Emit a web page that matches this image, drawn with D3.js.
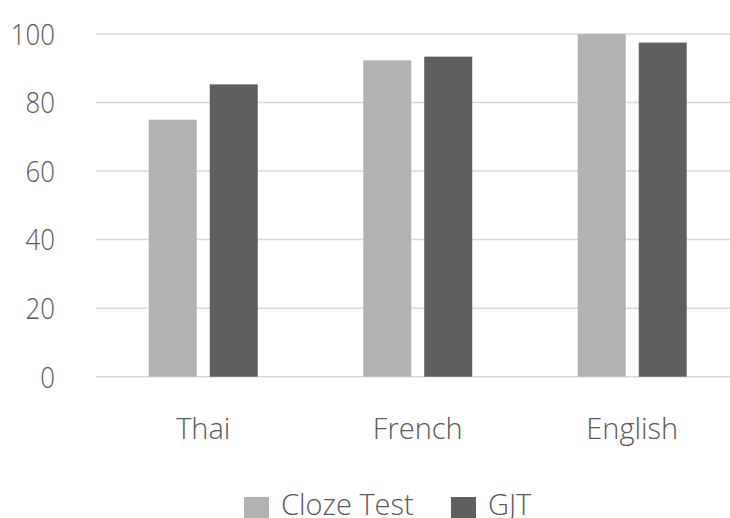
<!DOCTYPE html>
<html>
<head>
<meta charset="utf-8">
<script src="https://cdn.jsdelivr.net/npm/d3@7"></script>
<style>
  body { margin: 0; background: #fff; overflow: hidden; }
  text { font-family: "Open Sans", sans-serif; font-weight: 300; fill: #595959; }
</style>
</head>
<body>
<div id="chart"></div>
<script>
// chart data
var categories = ["Thai", "French", "English"];
var seriesNames = ["Cloze Test", "GJT"];
var clozeValues = [75, 92.3, 100];
var gjtValues = [85.3, 93.4, 97.5];
var yTicks = [0, 20, 40, 60, 80, 100];
var colors = ["#b2b2b2", "#5f5f5f"];

var width = 730, height = 518;
var margin = {top: 34, left: 96, bottom: 141};

var svg = d3.select("#chart").append("svg")
  .attr("width", width)
  .attr("height", height)
  .style("display", "block");

var x = d3.scaleBand()
  .domain(categories)
  .range([margin.left, margin.left + 643.5]);

var y = d3.scaleLinear()
  .domain([0, 100])
  .range([height - margin.bottom - 0.3, margin.top]);

// gridlines
svg.append("g")
  .selectAll("line")
  .data(yTicks)
  .enter()
  .append("line")
    .attr("x1", margin.left)
    .attr("x2", width)
    .attr("y1", function(d){ return y(d) })
    .attr("y2", function(d){ return y(d) })
    .style("stroke", "#d9d9d9")
    .style("stroke-width", 1.5);

// y labels (narrow digits like the original font)
svg.append("g")
  .selectAll("text")
  .data(yTicks)
  .enter()
  .append("text")
    .attr("transform", function(d){ return "translate(55," + y(d) + ") scale(0.86,1)" })
    .attr("dy", "0.36em")
    .attr("text-anchor", "end")
    .style("font-size", "30px")
    .text(function(d){ return d });

var inner = d3.scaleBand()
  .domain(seriesNames)
  .range([-54.5, 54.5])
  .paddingInner(0.213);

var rows = [];
categories.forEach(function(c, i){
  rows.push({cat: c, s: seriesNames[0], v: clozeValues[i], col: colors[0]});
  rows.push({cat: c, s: seriesNames[1], v: gjtValues[i], col: colors[1]});
});

svg.append("g")
  .selectAll("rect")
  .data(rows)
  .enter()
  .append("rect")
    .attr("x", function(d){ return x(d.cat) + x.bandwidth() / 2 + inner(d.s) })
    .attr("width", inner.bandwidth())
    .attr("y", function(d){ return y(d.v) })
    .attr("height", function(d){ return y(0) - y(d.v) })
    .attr("fill", function(d){ return d.col });

// category labels
svg.append("g")
  .selectAll("text")
  .data(categories)
  .enter()
  .append("text")
    .attr("x", function(d){ return x(d) + x.bandwidth() / 2 })
    .attr("y", 439)
    .attr("text-anchor", "middle")
    .style("font-size", "29px")
    .text(function(d){ return d });

// legend
var legendX = [244, 451];
var legend = svg.append("g")
  .selectAll("g")
  .data(seriesNames)
  .enter()
  .append("g")
    .attr("transform", function(d, i){ return "translate(" + legendX[i] + ",0)" });

legend.append("rect")
  .attr("x", 0)
  .attr("y", 497)
  .attr("width", 25)
  .attr("height", 25)
  .attr("fill", function(d, i){ return colors[i] });

legend.append("text")
  .attr("x", 37)
  .attr("y", 515)
  .style("font-size", "29px")
  .text(function(d){ return d });
</script>
</body>
</html>
